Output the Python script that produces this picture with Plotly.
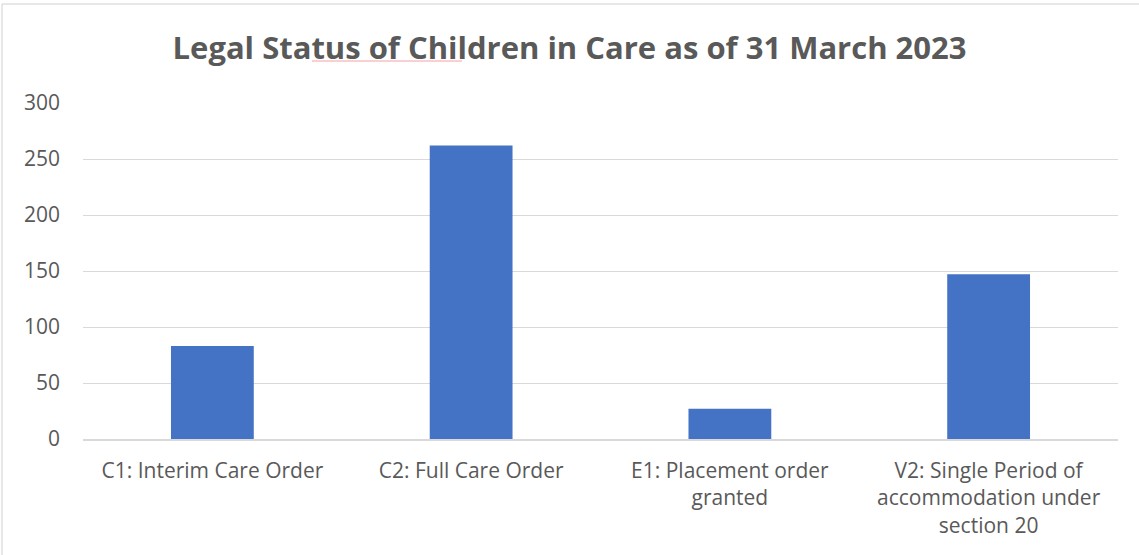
import plotly.graph_objects as go

# Legal status categories and counts (as of 31 March 2023)
categories = [
    "C1: Interim Care Order",
    "C2: Full Care Order",
    "E1: Placement order<br>granted",
    "V2: Single Period of<br>accommodation under<br>section 20",
]
counts = [83, 262, 27, 147]
y_ticks = [0, 50, 100, 150, 200, 250, 300]

grey_text = "#595959"
bar_blue = "#4472C4"

fig = go.Figure()
fig.add_trace(go.Bar(
    x=categories, y=counts,
    marker=dict(color=bar_blue, line=dict(width=0)),
    hoverinfo="x+y",
))

# plot area in pixels, used to place the frame and the spell-check underline
L, R, T, B = 83, 21, 103, 116
W, H = 1139, 555
pw, ph = W - L - R, H - T - B


def px_x(x):
    return (x - L) / pw


def px_y(y):
    return (H - B - y) / ph


fig.update_layout(
    width=W, height=H,
    margin=dict(l=L, r=R, t=T, b=B),
    paper_bgcolor="white", plot_bgcolor="white",
    bargap=0.68,
    showlegend=False,
    font=dict(family="Open Sans, sans-serif", size=21, color=grey_text),
    title=dict(
        text="<b>Legal Status of Children in Care as of 31 March 2023</b>",
        x=0.5, xanchor="center", y=1 - 48 / H, yanchor="middle",
        font=dict(family="Open Sans, sans-serif", size=31, color=grey_text),
    ),
    xaxis=dict(
        showgrid=False, showline=True, linecolor="#d9d9d9", linewidth=1.5,
        ticks="", ticklabelstandoff=12, tickfont=dict(size=21, color=grey_text),
    ),
    yaxis=dict(
        range=[0, 300], tickvals=y_ticks, showgrid=True, gridcolor="#d9d9d9",
        gridwidth=1.3, zeroline=False, showline=False, ticks="",
        ticklabelstandoff=22, tickfont=dict(size=21, color=grey_text),
    ),
    shapes=[
        # outer chart frame
        dict(type="rect", xref="paper", yref="paper",
             x0=px_x(2), x1=px_x(W + 5), y0=px_y(H + 5), y1=px_y(4),
             line=dict(color="#d0d0d0", width=1), layer="below"),
        # spell-check underline under "Children in Care"
        dict(type="line", xref="paper", yref="paper",
             x0=px_x(312), x1=px_x(462), y0=px_y(61), y1=px_y(61),
             line=dict(color="#f4a0a0", width=1)),
    ],
)

fig.write_html("out.html", config={"displayModeBar": False},
               post_script="document.body.style.margin='0px';")
